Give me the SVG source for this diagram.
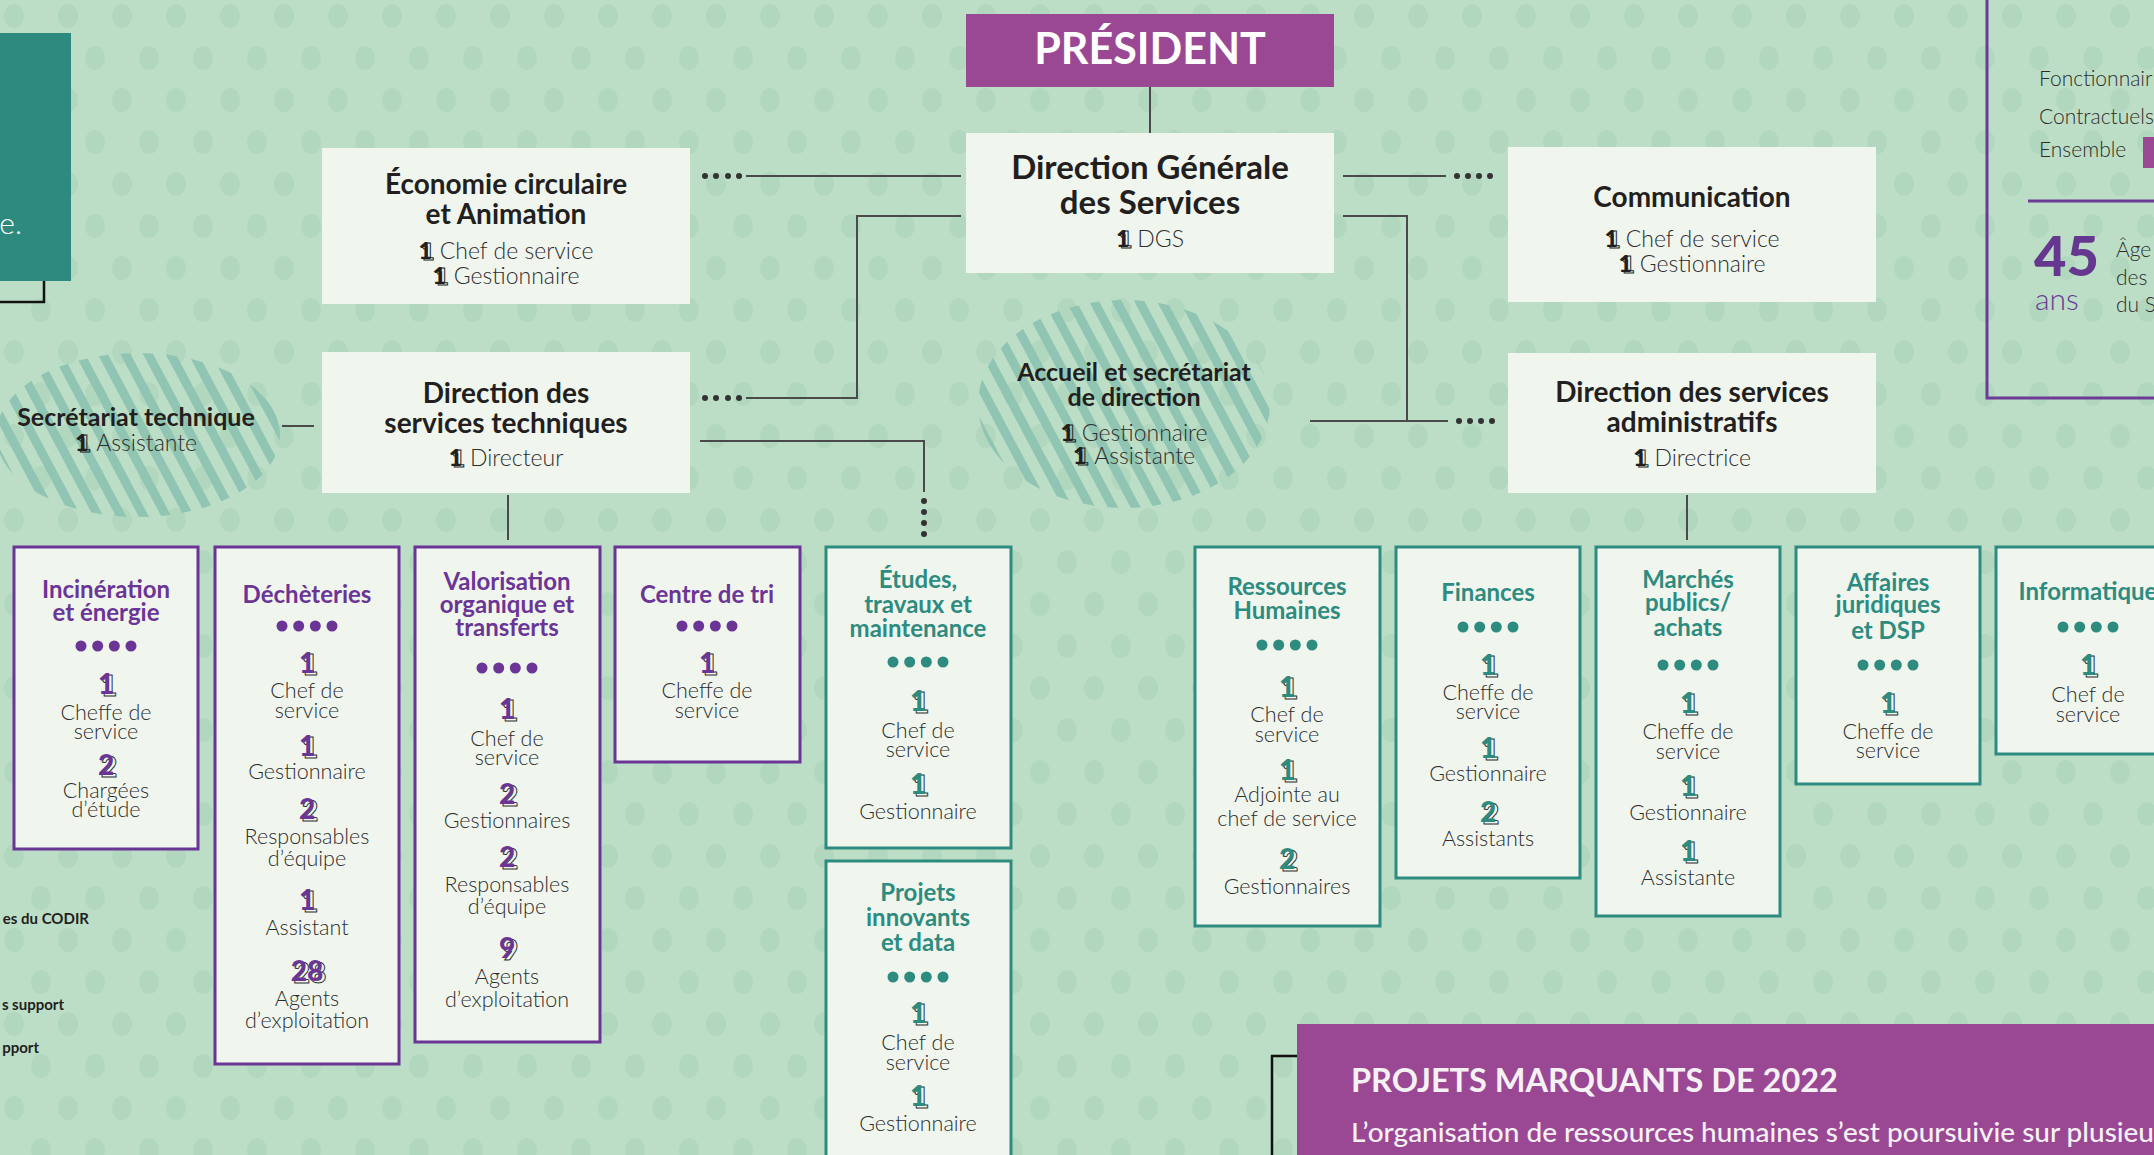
<svg xmlns="http://www.w3.org/2000/svg" xmlns:xlink="http://www.w3.org/1999/xlink" width="2154" height="1155" viewBox="0 0 2154 1155">
<defs>
<style>
text{font-family:Lato,'Liberation Sans',sans-serif;text-anchor:middle}
.hd{font-weight:700;font-size:28px;fill:#231f20}
.hg{font-weight:700;font-size:33px;fill:#231f20}
.hs{font-weight:700;font-size:25px;fill:#231f20}
.bd{font-weight:300;font-size:23px;fill:#2d2d2d}
.sb{font-weight:300;font-size:21.5px;fill:#2d2d2d}
.i1{font-weight:900;font-size:23px;fill:#231f20}
.i1o{font-weight:900;font-size:23px;fill:none;stroke:#231f20;stroke-width:1}
.tp{font-weight:700;font-size:24px;fill:#6b3596}
.tt{font-weight:700;font-size:24px;fill:#2e8b7f}
.np{font-weight:900;font-size:28px;fill:#6b3596}
.nt{font-weight:900;font-size:28px;fill:#2e8b7f}
.no{font-weight:900;font-size:28px;fill:none;stroke:#333;stroke-width:1}
.bp{fill:#f0f6ee;stroke:#6b3596;stroke-width:3}
.bt{fill:#f0f6ee;stroke:#2e8b7f;stroke-width:3}
.bw{fill:#f0f6ee}
.ln{fill:none;stroke:#4a4a4a;stroke-width:2}
.dk{fill:#333}
.dp{fill:#6b3596}
.dt{fill:#2e8b7f}
.lg{font-weight:700;font-size:15px;fill:#231f20;text-anchor:end}
.st{font-weight:300;font-size:21px;fill:#2d2d2d;text-anchor:start}
</style>
<text id="o1" class="no" x="0" y="0">1</text>
<text id="o2" class="no" x="0" y="0">2</text>
<text id="o9" class="no" x="0" y="0">9</text>
<text id="o28" class="no" x="0" y="0">28</text>
<pattern id="dots" width="108" height="84" patternUnits="userSpaceOnUse">
<rect width="108" height="84" fill="#bddec6"/>
<ellipse cx="14" cy="16" rx="10" ry="12" fill="#b1d7be"/>
<ellipse cx="68" cy="16" rx="10" ry="12" fill="#b1d7be"/>
<ellipse cx="41" cy="58" rx="10" ry="12" fill="#b1d7be"/>
<ellipse cx="95" cy="58" rx="10" ry="12" fill="#b1d7be"/>
</pattern>
<pattern id="hatch" width="20" height="20" patternUnits="userSpaceOnUse" patternTransform="rotate(-28)">
<rect x="0" y="0" width="9" height="20" fill="#90c5b3"/>
</pattern>
</defs>

<rect width="2154" height="1155" fill="url(#dots)"/>

<g id="left-panel">
<rect x="-100" y="60" width="144" height="242" fill="none" stroke="#111" stroke-width="2.5"/>
<rect x="-10" y="33" width="81" height="248" fill="#2e8a7e"/>
<text x="22" y="234" style="font-weight:300;font-size:30px;fill:#ffffff;text-anchor:end">e.</text>
</g>

<g id="stats-panel">
<rect x="1987" y="-10" width="220" height="408" fill="none" stroke="#6b3b97" stroke-width="3"/>
<text class="st" x="2039" y="86">Fonctionnair</text>
<text class="st" x="2039" y="124">Contractuels</text>
<text class="st" x="2039" y="157">Ensemble</text>
<rect x="2143" y="137" width="20" height="31" fill="#9a4894"/>
<line x1="2028" y1="201" x2="2160" y2="201" stroke="#6b3b97" stroke-width="3"/>
<text x="2034" y="276" style="font-weight:900;font-size:56px;fill:#65378f;text-anchor:start">45</text>
<text x="2035" y="310" style="font-weight:300;font-size:30px;fill:#6b3b97;text-anchor:start">ans</text>
<text class="st"><tspan x="2116" y="257">Âge</tspan><tspan x="2116" y="285">des</tspan><tspan x="2116" y="312">du S</tspan></text>
</g>

<g id="legend">
<text class="lg" x="89" y="924">es du CODIR</text>
<text class="lg" x="64" y="1010">s support</text>
<text class="lg" x="39" y="1053">pport</text>
</g>

<g id="connectors">
<line class="ln" x1="1150" y1="87" x2="1150" y2="133"/>
<line class="ln" x1="746" y1="176" x2="961" y2="176"/>
<polyline class="ln" points="961,216 857,216 857,398 746,398"/>
<line class="ln" x1="1343" y1="176" x2="1446" y2="176"/>
<polyline class="ln" points="1343,216 1407,216 1407,421"/>
<line class="ln" x1="1310" y1="421" x2="1448" y2="421"/>
<polyline class="ln" points="700,441 924,441 924,492"/>
<line class="ln" x1="282" y1="426" x2="314" y2="426"/>
<line class="ln" x1="508" y1="495" x2="508" y2="540"/>
<line class="ln" x1="1687" y1="495" x2="1687" y2="540"/>
<g class="dk">
<circle cx="705" cy="176" r="3"/><circle cx="716" cy="176" r="3"/><circle cx="728" cy="176" r="3"/><circle cx="739" cy="176" r="3"/>
<circle cx="705" cy="398" r="3"/><circle cx="716" cy="398" r="3"/><circle cx="728" cy="398" r="3"/><circle cx="739" cy="398" r="3"/>
<circle cx="1457" cy="176" r="3"/><circle cx="1468" cy="176" r="3"/><circle cx="1479" cy="176" r="3"/><circle cx="1490" cy="176" r="3"/>
<circle cx="1459" cy="421" r="3"/><circle cx="1470" cy="421" r="3"/><circle cx="1481" cy="421" r="3"/><circle cx="1492" cy="421" r="3"/>
<circle cx="924" cy="501" r="3"/><circle cx="924" cy="512" r="3"/><circle cx="924" cy="523" r="3"/><circle cx="924" cy="534" r="3"/>
</g>
</g>

<g id="president">
<rect x="966" y="14" width="368" height="73" fill="#9a4894"/>
<text x="1150" y="64" style="font-weight:700;font-size:43px;fill:#ffffff">PRÉSIDENT</text>
</g>

<g id="dgs">
<rect class="bw" x="966" y="133" width="368" height="140"/>
<text class="hg"><tspan x="1150" y="179">Direction Générale</tspan><tspan x="1150" y="214">des Services</tspan></text>
<text class="bd"><tspan x="1150" y="248" class="i1o">1</tspan><tspan class="i1" dx="-16.3" dy="-1">1</tspan><tspan dx="8">DGS</tspan></text>
</g>

<g id="economie">
<rect class="bw" x="322" y="148" width="368" height="156"/>
<text class="hd"><tspan x="506" y="194">Économie circulaire</tspan><tspan x="506" y="224">et Animation</tspan></text>
<text class="bd"><tspan x="506" y="260" class="i1o">1</tspan><tspan class="i1" dx="-16.3" dy="-1">1</tspan><tspan dx="8">Chef de service</tspan><tspan x="506" y="285" class="i1o">1</tspan><tspan class="i1" dx="-16.3" dy="-1">1</tspan><tspan dx="8">Gestionnaire</tspan></text>
</g>

<g id="dst">
<rect class="bw" x="322" y="352" width="368" height="141"/>
<text class="hd"><tspan x="506" y="403">Direction des</tspan><tspan x="506" y="433">services techniques</tspan></text>
<text class="bd"><tspan x="506" y="467" class="i1o">1</tspan><tspan class="i1" dx="-16.3" dy="-1">1</tspan><tspan dx="8">Directeur</tspan></text>
</g>

<g id="communication">
<rect class="bw" x="1508" y="147" width="368" height="155"/>
<text class="hd" x="1692" y="207">Communication</text>
<text class="bd"><tspan x="1692" y="248" class="i1o">1</tspan><tspan class="i1" dx="-16.3" dy="-1">1</tspan><tspan dx="8">Chef de service</tspan><tspan x="1692" y="273" class="i1o">1</tspan><tspan class="i1" dx="-16.3" dy="-1">1</tspan><tspan dx="8">Gestionnaire</tspan></text>
</g>

<g id="dsa">
<rect class="bw" x="1508" y="353" width="368" height="140"/>
<text class="hd"><tspan x="1692" y="402">Direction des services</tspan><tspan x="1692" y="432">administratifs</tspan></text>
<text class="bd"><tspan x="1692" y="467" class="i1o">1</tspan><tspan class="i1" dx="-16.3" dy="-1">1</tspan><tspan dx="8">Directrice</tspan></text>
</g>

<g id="secretariat-technique">
<ellipse cx="138" cy="435" rx="142" ry="82" fill="url(#hatch)"/>
<text class="hs" x="136" y="426">Secrétariat technique</text>
<text class="bd"><tspan x="136" y="452" class="i1o">1</tspan><tspan class="i1" dx="-16.3" dy="-1">1</tspan><tspan dx="8">Assistante</tspan></text>
</g>

<g id="accueil">
<ellipse cx="1124" cy="404" rx="146" ry="104" fill="url(#hatch)"/>
<text class="hs"><tspan x="1134" y="381">Accueil et secrétariat</tspan><tspan x="1134" y="406">de direction</tspan></text>
<text class="bd"><tspan x="1134" y="442" class="i1o">1</tspan><tspan class="i1" dx="-16.3" dy="-1">1</tspan><tspan dx="8">Gestionnaire</tspan><tspan x="1134" y="465" class="i1o">1</tspan><tspan class="i1" dx="-16.3" dy="-1">1</tspan><tspan dx="8">Assistante</tspan></text>
</g>

<g id="incineration">
<rect class="bp" x="14" y="547" width="184" height="302"/>
<text class="tp"><tspan x="106" y="598">Incinération</tspan><tspan x="106" y="621">et énergie</tspan></text>
<g class="dp"><circle cx="81" cy="646" r="5.5"/><circle cx="97.7" cy="646" r="5.5"/><circle cx="114.3" cy="646" r="5.5"/><circle cx="131" cy="646" r="5.5"/></g>
<use xlink:href="#o1" href="#o1" x="109" y="696"/><text class="np" x="106" y="694">1</text>
<use xlink:href="#o2" href="#o2" x="109" y="777"/><text class="np" x="106" y="775">2</text>
<text class="sb"><tspan x="106" y="720">Cheffe de</tspan><tspan x="106" y="739">service</tspan><tspan x="106" y="798">Chargées</tspan><tspan x="106" y="817">d’étude</tspan></text>
</g>

<g id="decheteries">
<rect class="bp" x="215" y="547" width="184" height="517"/>
<text class="tp" x="307" y="603">Déchèteries</text>
<g class="dp"><circle cx="282" cy="626" r="5.5"/><circle cx="298.7" cy="626" r="5.5"/><circle cx="315.3" cy="626" r="5.5"/><circle cx="332" cy="626" r="5.5"/></g>
<use xlink:href="#o1" href="#o1" x="310" y="675"/><text class="np" x="307" y="673">1</text>
<use xlink:href="#o1" href="#o1" x="310" y="758"/><text class="np" x="307" y="756">1</text>
<use xlink:href="#o2" href="#o2" x="310" y="821"/><text class="np" x="307" y="819">2</text>
<use xlink:href="#o1" href="#o1" x="310" y="912"/><text class="np" x="307" y="910">1</text>
<use xlink:href="#o28" href="#o28" x="310" y="983"/><text class="np" x="307" y="981">28</text>
<text class="sb"><tspan x="307" y="698">Chef de</tspan><tspan x="307" y="718">service</tspan><tspan x="307" y="779">Gestionnaire</tspan><tspan x="307" y="844">Responsables</tspan><tspan x="307" y="866">d’équipe</tspan><tspan x="307" y="935">Assistant</tspan><tspan x="307" y="1006">Agents</tspan><tspan x="307" y="1028">d’exploitation</tspan></text>
</g>

<g id="valorisation">
<rect class="bp" x="415" y="547" width="185" height="495"/>
<text class="tp"><tspan x="507" y="590">Valorisation</tspan><tspan x="507" y="613">organique et</tspan><tspan x="507" y="636">transferts</tspan></text>
<g class="dp"><circle cx="482" cy="668" r="5.5"/><circle cx="498.7" cy="668" r="5.5"/><circle cx="515.3" cy="668" r="5.5"/><circle cx="532" cy="668" r="5.5"/></g>
<use xlink:href="#o1" href="#o1" x="510" y="721"/><text class="np" x="507" y="719">1</text>
<use xlink:href="#o2" href="#o2" x="510" y="806"/><text class="np" x="507" y="804">2</text>
<use xlink:href="#o2" href="#o2" x="510" y="869"/><text class="np" x="507" y="867">2</text>
<use xlink:href="#o9" href="#o9" x="510" y="960"/><text class="np" x="507" y="958">9</text>
<text class="sb"><tspan x="507" y="746">Chef de</tspan><tspan x="507" y="765">service</tspan><tspan x="507" y="828">Gestionnaires</tspan><tspan x="507" y="892">Responsables</tspan><tspan x="507" y="914">d’équipe</tspan><tspan x="507" y="984">Agents</tspan><tspan x="507" y="1007">d’exploitation</tspan></text>
</g>

<g id="centre-de-tri">
<rect class="bp" x="615" y="547" width="185" height="215"/>
<text class="tp" x="707" y="603">Centre de tri</text>
<g class="dp"><circle cx="682" cy="626" r="5.5"/><circle cx="698.7" cy="626" r="5.5"/><circle cx="715.3" cy="626" r="5.5"/><circle cx="732" cy="626" r="5.5"/></g>
<use xlink:href="#o1" href="#o1" x="710" y="675"/><text class="np" x="707" y="673">1</text>
<text class="sb"><tspan x="707" y="698">Cheffe de</tspan><tspan x="707" y="718">service</tspan></text>
</g>

<g id="etudes">
<rect class="bt" x="826" y="547" width="185" height="301"/>
<text class="tt"><tspan x="918" y="588">Études,</tspan><tspan x="918" y="613">travaux et</tspan><tspan x="918" y="637">maintenance</tspan></text>
<g class="dt"><circle cx="893" cy="662" r="5.5"/><circle cx="909.7" cy="662" r="5.5"/><circle cx="926.3" cy="662" r="5.5"/><circle cx="943" cy="662" r="5.5"/></g>
<use xlink:href="#o1" href="#o1" x="921" y="713"/><text class="nt" x="918" y="711">1</text>
<use xlink:href="#o1" href="#o1" x="921" y="796"/><text class="nt" x="918" y="794">1</text>
<text class="sb"><tspan x="918" y="738">Chef de</tspan><tspan x="918" y="757">service</tspan><tspan x="918" y="819">Gestionnaire</tspan></text>
</g>

<g id="projets-innovants">
<rect class="bt" x="826" y="861" width="185" height="320"/>
<text class="tt"><tspan x="918" y="901">Projets</tspan><tspan x="918" y="926">innovants</tspan><tspan x="918" y="951">et data</tspan></text>
<g class="dt"><circle cx="893" cy="977" r="5.5"/><circle cx="909.7" cy="977" r="5.5"/><circle cx="926.3" cy="977" r="5.5"/><circle cx="943" cy="977" r="5.5"/></g>
<use xlink:href="#o1" href="#o1" x="921" y="1025"/><text class="nt" x="918" y="1023">1</text>
<use xlink:href="#o1" href="#o1" x="921" y="1108"/><text class="nt" x="918" y="1106">1</text>
<text class="sb"><tspan x="918" y="1050">Chef de</tspan><tspan x="918" y="1070">service</tspan><tspan x="918" y="1131">Gestionnaire</tspan></text>
</g>

<g id="ressources-humaines">
<rect class="bt" x="1195" y="547" width="185" height="379"/>
<text class="tt"><tspan x="1287" y="595">Ressources</tspan><tspan x="1287" y="619">Humaines</tspan></text>
<g class="dt"><circle cx="1262" cy="645" r="5.5"/><circle cx="1278.7" cy="645" r="5.5"/><circle cx="1295.3" cy="645" r="5.5"/><circle cx="1312" cy="645" r="5.5"/></g>
<use xlink:href="#o1" href="#o1" x="1290" y="699"/><text class="nt" x="1287" y="697">1</text>
<use xlink:href="#o1" href="#o1" x="1290" y="782"/><text class="nt" x="1287" y="780">1</text>
<use xlink:href="#o2" href="#o2" x="1290" y="871"/><text class="nt" x="1287" y="869">2</text>
<text class="sb"><tspan x="1287" y="722">Chef de</tspan><tspan x="1287" y="742">service</tspan><tspan x="1287" y="802">Adjointe au</tspan><tspan x="1287" y="826">chef de service</tspan><tspan x="1287" y="894">Gestionnaires</tspan></text>
</g>

<g id="finances">
<rect class="bt" x="1396" y="547" width="184" height="331"/>
<text class="tt" x="1488" y="601">Finances</text>
<g class="dt"><circle cx="1463" cy="627" r="5.5"/><circle cx="1479.7" cy="627" r="5.5"/><circle cx="1496.3" cy="627" r="5.5"/><circle cx="1513" cy="627" r="5.5"/></g>
<use xlink:href="#o1" href="#o1" x="1491" y="677"/><text class="nt" x="1488" y="675">1</text>
<use xlink:href="#o1" href="#o1" x="1491" y="760"/><text class="nt" x="1488" y="758">1</text>
<use xlink:href="#o2" href="#o2" x="1491" y="824"/><text class="nt" x="1488" y="822">2</text>
<text class="sb"><tspan x="1488" y="700">Cheffe de</tspan><tspan x="1488" y="719">service</tspan><tspan x="1488" y="781">Gestionnaire</tspan><tspan x="1488" y="846">Assistants</tspan></text>
</g>

<g id="marches-publics">
<rect class="bt" x="1596" y="547" width="184" height="369"/>
<text class="tt"><tspan x="1688" y="588">Marchés</tspan><tspan x="1688" y="611">publics/</tspan><tspan x="1688" y="636">achats</tspan></text>
<g class="dt"><circle cx="1663" cy="665" r="5.5"/><circle cx="1679.7" cy="665" r="5.5"/><circle cx="1696.3" cy="665" r="5.5"/><circle cx="1713" cy="665" r="5.5"/></g>
<use xlink:href="#o1" href="#o1" x="1691" y="715"/><text class="nt" x="1688" y="713">1</text>
<use xlink:href="#o1" href="#o1" x="1691" y="798"/><text class="nt" x="1688" y="796">1</text>
<use xlink:href="#o1" href="#o1" x="1691" y="863"/><text class="nt" x="1688" y="861">1</text>
<text class="sb"><tspan x="1688" y="739">Cheffe de</tspan><tspan x="1688" y="759">service</tspan><tspan x="1688" y="820">Gestionnaire</tspan><tspan x="1688" y="885">Assistante</tspan></text>
</g>

<g id="affaires-juridiques">
<rect class="bt" x="1796" y="547" width="184" height="237"/>
<text class="tt"><tspan x="1888" y="591">Affaires</tspan><tspan x="1888" y="613">juridiques</tspan><tspan x="1888" y="639">et DSP</tspan></text>
<g class="dt"><circle cx="1863" cy="665" r="5.5"/><circle cx="1879.7" cy="665" r="5.5"/><circle cx="1896.3" cy="665" r="5.5"/><circle cx="1913" cy="665" r="5.5"/></g>
<use xlink:href="#o1" href="#o1" x="1891" y="715"/><text class="nt" x="1888" y="713">1</text>
<text class="sb"><tspan x="1888" y="739">Cheffe de</tspan><tspan x="1888" y="758">service</tspan></text>
</g>

<g id="informatique">
<rect class="bt" x="1996" y="547" width="184" height="207"/>
<text class="tt" x="2088" y="600">Informatique</text>
<g class="dt"><circle cx="2063" cy="627" r="5.5"/><circle cx="2079.7" cy="627" r="5.5"/><circle cx="2096.3" cy="627" r="5.5"/><circle cx="2113" cy="627" r="5.5"/></g>
<use xlink:href="#o1" href="#o1" x="2091" y="677"/><text class="nt" x="2088" y="675">1</text>
<text class="sb"><tspan x="2088" y="702">Chef de</tspan><tspan x="2088" y="722">service</tspan></text>
</g>

<g id="projets-marquants">
<rect x="1272" y="1056" width="920" height="140" fill="none" stroke="#111" stroke-width="2.5"/>
<rect x="1297" y="1024" width="900" height="160" fill="#9a4894"/>
<text x="1351" y="1092" style="font-weight:700;font-size:32.5px;fill:#f6f1f5;text-anchor:start">PROJETS MARQUANTS DE 2022</text>
<text x="1351" y="1142" textLength="803" lengthAdjust="spacingAndGlyphs" style="font-weight:500;font-size:27px;fill:#f6f1f5;text-anchor:start">L’organisation de ressources humaines s’est poursuivie sur plusieu</text>
</g>
</svg>
